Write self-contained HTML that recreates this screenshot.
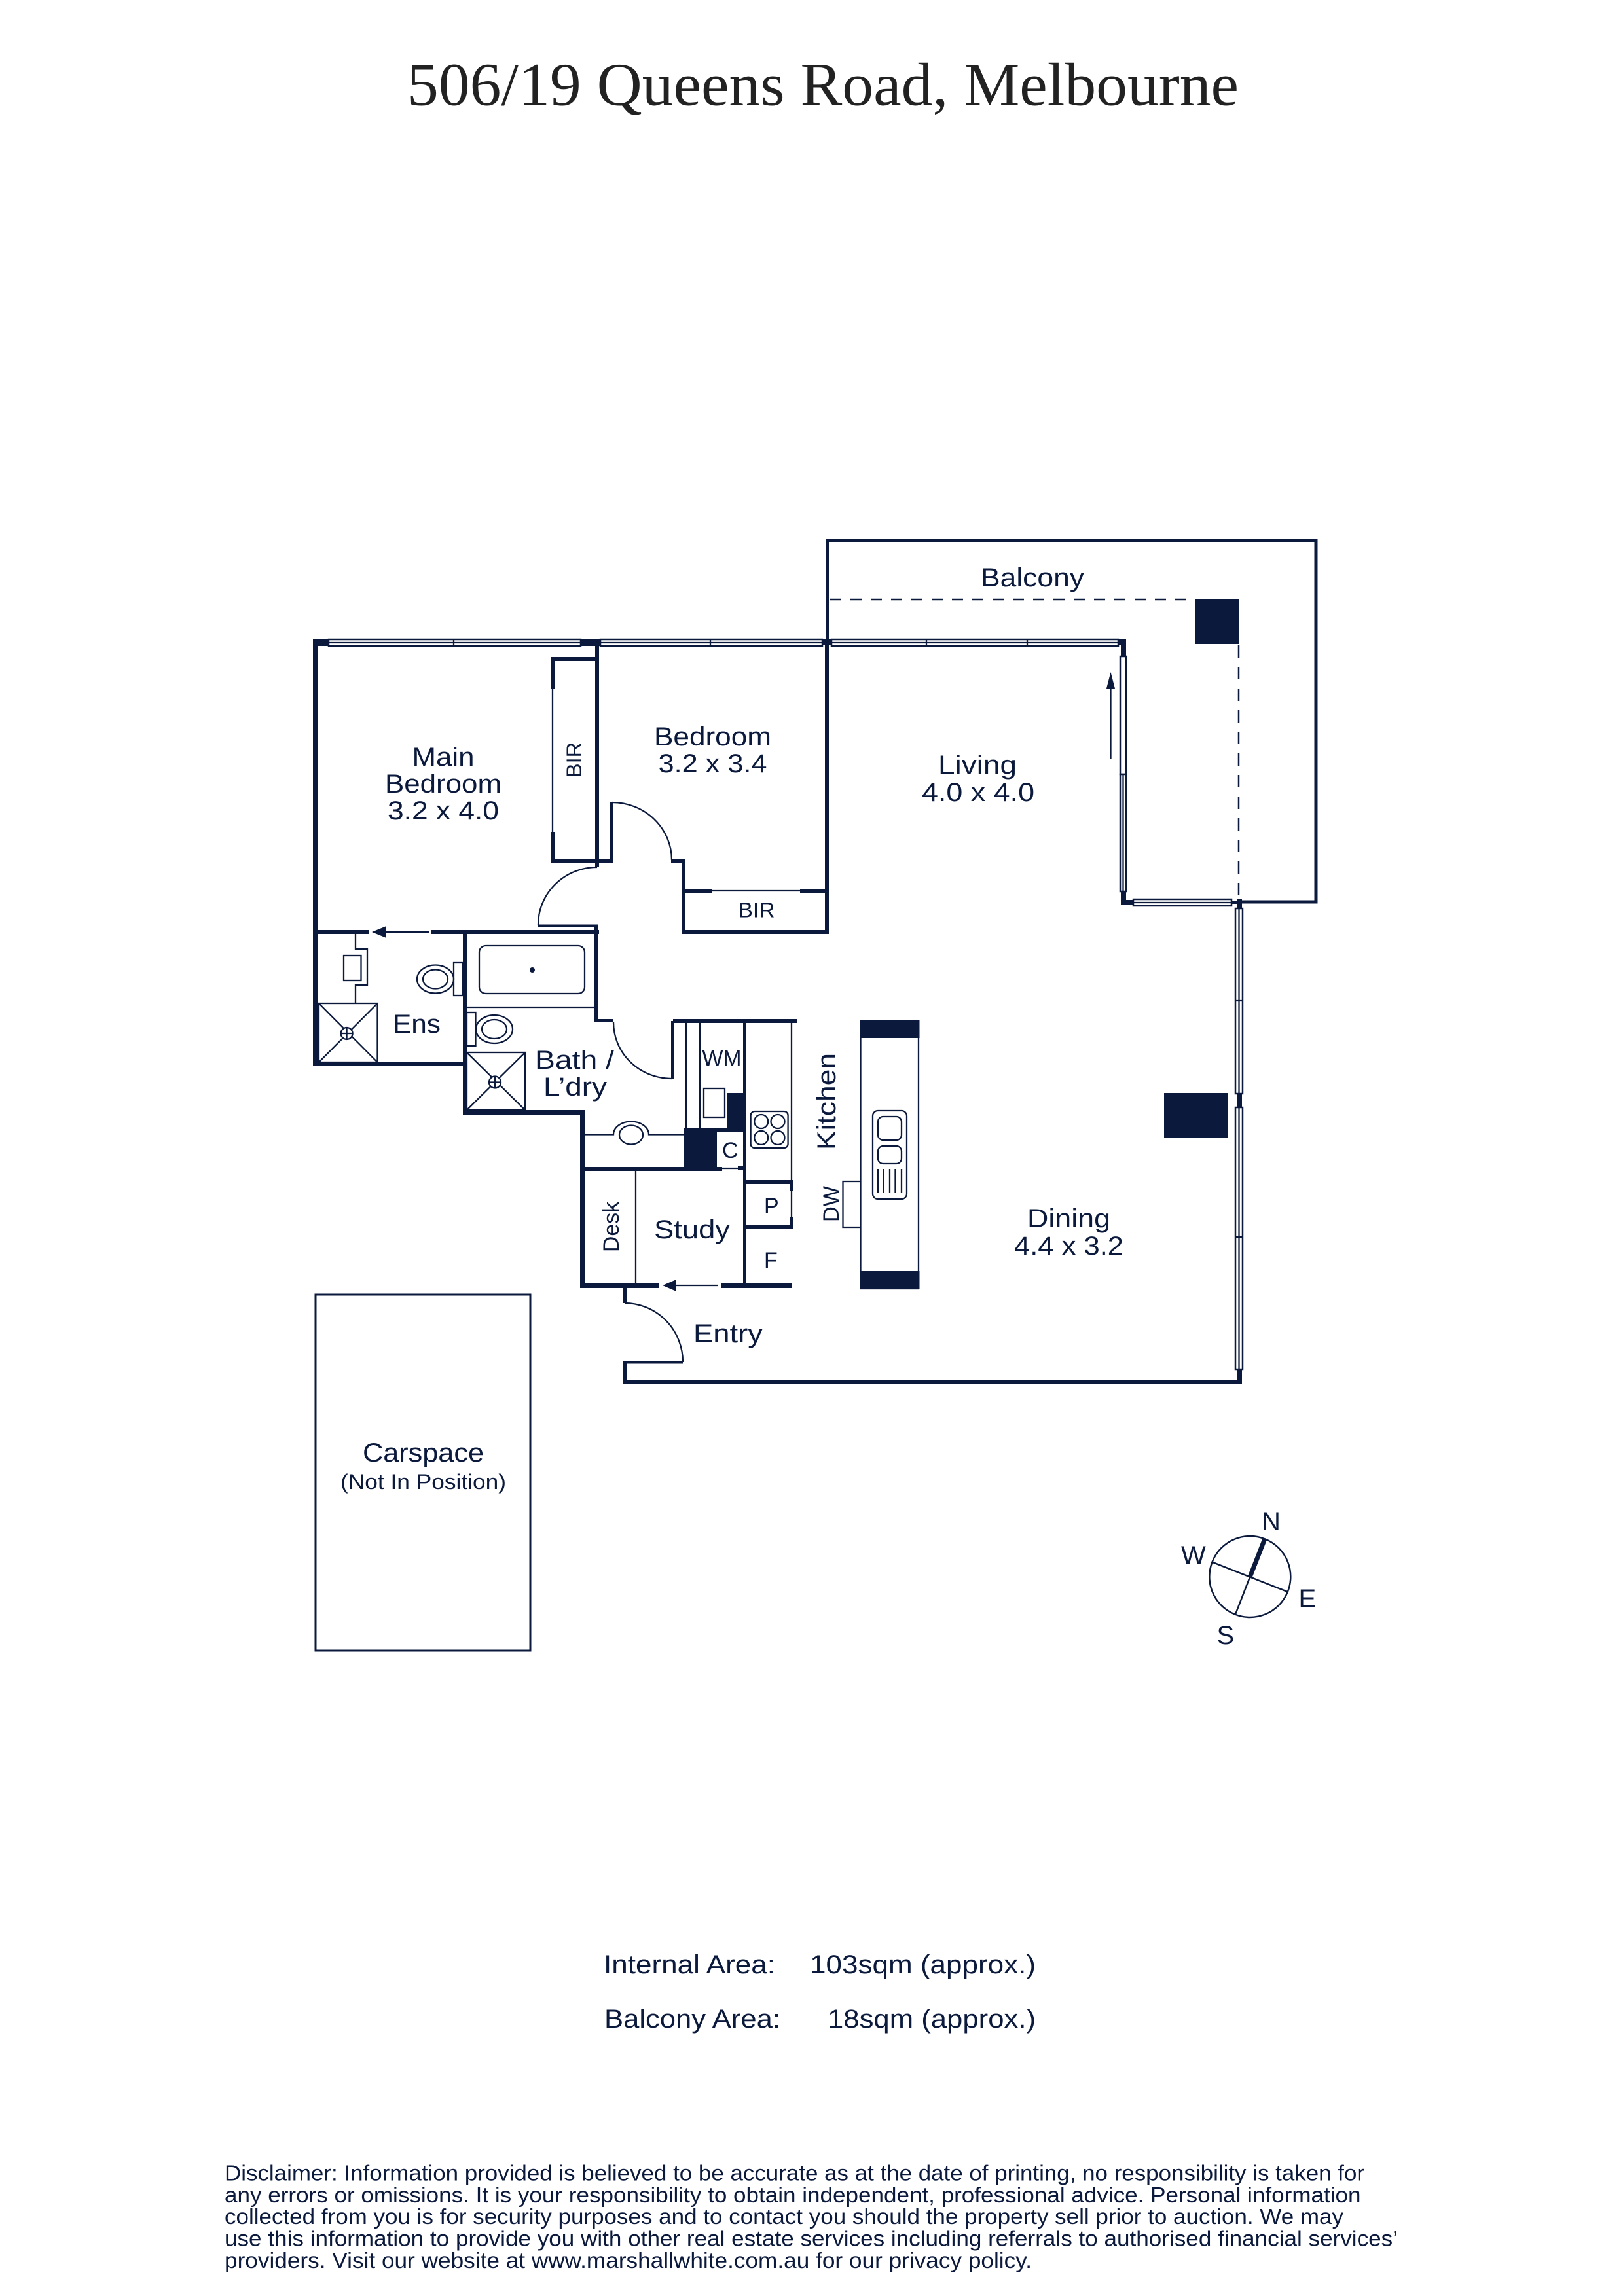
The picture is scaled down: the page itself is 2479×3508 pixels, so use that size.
<!DOCTYPE html>
<html><head><meta charset="utf-8"><style>
html,body{margin:0;padding:0;background:#fff;width:2479px;height:3508px;overflow:hidden}
svg{display:block}
text{font-family:"Liberation Sans",sans-serif;fill:#0b1a3c;font-size:40px}
.s{font-size:32px}
.d{font-size:34px}
.w{fill:#0b1a3c;stroke:none}
.t{fill:none;stroke:#0b1a3c;stroke-width:2.3}
.g{fill:#fff;stroke:#0b1a3c;stroke-width:2.5}
</style></head><body>
<svg xmlns="http://www.w3.org/2000/svg" width="2479" height="3508" viewBox="0 0 2479 3508">
<rect width="2479" height="3508" fill="#fff"/>
<text x="622" y="160.5" style="font-family:'Liberation Serif',serif;font-size:93px;fill:#222" textLength="1270" lengthAdjust="spacingAndGlyphs">506/19 Queens Road, Melbourne</text>

<!-- balcony -->
<path d="M1263.5 977V825.5H2010V1378H1893" fill="none" stroke="#0b1a3c" stroke-width="5"/>
<path d="M1268 916H1824" fill="none" stroke="#0b1a3c" stroke-width="2.5" stroke-dasharray="17 14"/>
<path d="M1892 986V1376" fill="none" stroke="#0b1a3c" stroke-width="2.5" stroke-dasharray="19 14"/>
<rect class="w" x="1825" y="915" width="68" height="69"/>
<rect class="w" x="1778" y="1670" width="98" height="68"/>

<!-- windows -->
<g>
<rect class="g" x="502" y="977" width="385" height="10"/><path class="t" d="M502 982H887M693 977V987"/>
<rect class="g" x="917" y="977" width="339" height="10"/><path class="t" d="M917 982H1256M1085 977V987"/>
<rect class="g" x="1270" y="977" width="438" height="10"/><path class="t" d="M1270 982H1708M1415 977V987M1569 977V987"/>
<rect class="g" x="1711" y="1003" width="9" height="180"/>
<rect class="g" x="1711" y="1183" width="9" height="179"/><path class="t" d="M1715.500 1183V1362"/>
<rect class="g" x="1731" y="1374" width="150" height="10"/><path class="t" d="M1731 1379H1881"/>
<rect class="g" x="1887" y="1388" width="11" height="283"/><path class="t" d="M1892.500 1388V1671M1887 1529H1898"/>
<rect class="g" x="1887" y="1692" width="11" height="400"/><path class="t" d="M1892.500 1692V2092M1887 1890H1898"/>
</g>

<!-- walls -->
<g class="w">
<rect x="478" y="977" width="8" height="652"/>
<rect x="478" y="977" width="24" height="10"/>
<rect x="887" y="977" width="29" height="10"/>
<rect x="909" y="977" width="6" height="348"/>
<rect x="1256" y="977" width="14" height="9"/>
<rect x="841" y="1004" width="70" height="6"/>
<rect x="841" y="1004" width="6" height="48"/>
<rect x="841" y="1271" width="6" height="47"/>
<rect x="841" y="1312" width="94" height="6"/>
<rect x="932" y="1225" width="5" height="93"/>
<rect x="1025" y="1312" width="22" height="6"/>
<rect x="1041" y="1312" width="6" height="115"/>
<rect x="1046" y="1358" width="42" height="7"/>
<rect x="1222" y="1358" width="40" height="7"/>
<rect x="1041" y="1421" width="225" height="6"/>
<rect x="1260" y="977" width="6" height="450"/>
<rect x="482" y="1421" width="81" height="6"/>
<rect x="659" y="1421" width="256" height="6"/>
<rect x="707" y="1421" width="6" height="282"/>
<rect x="478" y="1622" width="235" height="7"/>
<rect x="707" y="1696" width="186" height="7"/>
<rect x="886" y="1696" width="7" height="271"/>
<rect x="886" y="1961" width="121" height="7"/>
<rect x="1102" y="1961" width="108" height="7"/>
<rect x="951" y="1967" width="7" height="24"/>
<rect x="951" y="2080" width="7" height="34"/>
<rect x="951" y="2108" width="946" height="6.500"/>
<rect x="952" y="2080" width="91" height="3.500"/>
<rect x="822" y="1412.500" width="91" height="3.500"/>
<rect x="908" y="1413" width="6" height="149"/>
<rect x="908" y="1557" width="29" height="5"/>
<rect x="1025" y="1560" width="4" height="89"/>
<rect x="1028" y="1557" width="189" height="6"/>
<rect x="1135" y="1557" width="5" height="407"/>
<rect x="1140" y="1803" width="72" height="6"/>
<rect x="1206" y="1803" width="6" height="17"/>
<rect x="1140" y="1872" width="72" height="6"/>
<rect x="1206" y="1860" width="6" height="18"/>
<rect x="888" y="1783" width="215" height="6"/>
<rect x="1127" y="1781" width="8" height="7"/>
<rect x="1111" y="1670" width="24" height="59"/>
<rect x="1045" y="1723" width="50" height="65"/>
<rect x="1095" y="1723" width="40" height="6"/>
<!-- corners -->
<rect x="1708" y="977" width="12" height="8"/>
<rect x="1712" y="977" width="8" height="26"/>
<rect x="1712" y="1362" width="8" height="20"/>
<rect x="1712" y="1375" width="19" height="7"/>
<rect x="1881" y="1376" width="16" height="5"/>
<rect x="1889" y="1373" width="8" height="15"/>
<rect x="1889" y="1671" width="8" height="21"/>
<rect x="1889" y="2092" width="8" height="22"/>
<!-- arrows -->
<path d="M568 1424L590 1415V1433Z"/>
<path d="M1012 1964L1033 1955V1973Z"/>
<path d="M1696.500 1027L1690 1052H1703Z"/>
<!-- island -->
<rect x="1313" y="1559" width="91.500" height="27"/>
<rect x="1313" y="1942" width="91.500" height="28"/>
</g>

<!-- thin lines -->
<g class="t">
<path d="M590 1424H655M1033 1964H1097M1696.500 1050V1159"/>
<path d="M844 1052V1271M1088 1361H1222"/>
<path d="M935 1226A91 88 0 0 1 1026 1314"/>
<path d="M912 1325A90 88 0 0 0 822 1413"/>
<path d="M937 1562A89 86 0 0 0 1026 1648"/>
<path d="M954 1991A89 90 0 0 1 1043 2081"/>
<path d="M1048 1562V1723M1069 1562V1723"/>
<path d="M971 1789V1961"/>
<path d="M1103 1785H1127"/>
<path d="M1209 1562V1805M1209 1820V1860"/>
<!-- ensuite -->
<path d="M543 1427V1450H561V1505H543V1533"/>
<rect x="525" y="1460" width="26.500" height="38"/>
<rect x="693" y="1471" width="14" height="50"/>
<ellipse cx="665" cy="1496" rx="28" ry="21.500"/>
<ellipse cx="665" cy="1496" rx="19" ry="14.500"/>
<rect x="487" y="1533" width="89.500" height="90"/>
<path d="M487 1533L576.500 1623M576.500 1533L487 1623"/>
<circle cx="529.600" cy="1579" r="9" fill="#fff"/>
<path d="M520.600 1579H538.600M529.600 1570V1588"/>
<!-- bath -->
<path d="M713 1539H909"/>
<rect x="732" y="1445" width="161" height="73" rx="10"/>
<rect x="713" y="1547" width="13.500" height="51"/>
<ellipse cx="755" cy="1572.500" rx="28" ry="21.500"/>
<ellipse cx="755" cy="1572.500" rx="19" ry="14.500"/>
<rect x="713" y="1608" width="89" height="88"/>
<path d="M713 1608L802 1696M802 1608L713 1696"/>
<circle cx="756" cy="1653.500" r="9" fill="#fff"/>
<path d="M747 1653.500H765M756 1644.500V1662.500"/>
<path d="M893 1733.500H937A27 20 0 0 1 991 1733.500H1045"/>
<ellipse cx="964" cy="1734" rx="18" ry="14.500"/>
<rect x="1075" y="1663" width="32" height="44"/>
<!-- cooktop -->
<rect x="1146.600" y="1698" width="57" height="56" rx="6"/>
<circle cx="1162.700" cy="1713.500" r="10.500"/>
<circle cx="1188" cy="1713.500" r="10.500"/>
<circle cx="1162.700" cy="1738.400" r="10.500"/>
<circle cx="1188" cy="1738.400" r="10.500"/>
<!-- island -->
<rect x="1314.500" y="1560" width="88.500" height="409"/>
<rect x="1333" y="1697" width="52" height="135" rx="8"/>
<rect x="1341" y="1706" width="36" height="36" rx="8"/>
<rect x="1341" y="1751" width="36" height="27" rx="8"/>
<path d="M1341 1786V1823M1349.500 1786V1823M1359 1786V1823M1367.500 1786V1823M1377 1786V1823"/>
<path d="M1313 1805H1287.500V1875H1313"/>
<!-- carspace -->
<rect x="482" y="1978" width="328" height="544" stroke-width="3"/>
</g>
<circle cx="813" cy="1482" r="4" class="w"/>

<!-- compass -->
<circle cx="1909.300" cy="2409" r="62" fill="none" stroke="#0b1a3c" stroke-width="2.500"/>
<path d="M1851.700 2386.700L1967.300 2432.300M1909.300 2409L1886.700 2467.300" fill="none" stroke="#0b1a3c" stroke-width="2.500"/>
<path d="M1909.300 2409L1931.700 2351.700" fill="none" stroke="#0b1a3c" stroke-width="7"/>
<text x="1927" y="2338">N</text>
<text x="1804" y="2390">W</text>
<text x="1983.500" y="2456">E</text>
<text x="1858.500" y="2512">S</text>

<!-- labels -->
<g>
<text x="629.500" y="1170" textLength="95" lengthAdjust="spacingAndGlyphs">Main</text>
<text x="588" y="1211" textLength="178" lengthAdjust="spacingAndGlyphs">Bedroom</text>
<text x="592" y="1252" textLength="170" lengthAdjust="spacingAndGlyphs">3.2 x 4.0</text>
<text x="999" y="1139" textLength="179" lengthAdjust="spacingAndGlyphs">Bedroom</text>
<text x="1005.500" y="1180" textLength="166" lengthAdjust="spacingAndGlyphs">3.2 x 3.4</text>
<text x="1433" y="1182" textLength="120" lengthAdjust="spacingAndGlyphs">Living</text>
<text x="1408" y="1224" textLength="172" lengthAdjust="spacingAndGlyphs">4.0 x 4.0</text>
<text x="1498" y="896" textLength="158" lengthAdjust="spacingAndGlyphs">Balcony</text>
<text x="1569" y="1875" textLength="127" lengthAdjust="spacingAndGlyphs">Dining</text>
<text x="1549" y="1917" textLength="167" lengthAdjust="spacingAndGlyphs">4.4 x 3.2</text>
<text x="600" y="1578" textLength="73" lengthAdjust="spacingAndGlyphs">Ens</text>
<text x="817" y="1633" textLength="121" lengthAdjust="spacingAndGlyphs">Bath /</text>
<text x="830" y="1674" textLength="97" lengthAdjust="spacingAndGlyphs">L’dry</text>
<text x="999" y="1892" textLength="116" lengthAdjust="spacingAndGlyphs">Study</text>
<text x="1059" y="2051" textLength="106" lengthAdjust="spacingAndGlyphs">Entry</text>
<text class="s" x="1127.500" y="1401.500" textLength="56" lengthAdjust="spacingAndGlyphs">BIR</text>
<text class="d" x="1072.500" y="1628.500" textLength="60" lengthAdjust="spacingAndGlyphs">WM</text>
<text class="d" x="1103" y="1769">C</text>
<text class="d" x="1167" y="1854">P</text>
<text class="d" x="1167" y="1937">F</text>
<text class="s" transform="translate(888 1188) rotate(-90)" textLength="54" lengthAdjust="spacingAndGlyphs">BIR</text>
<text class="d" transform="translate(945 1913) rotate(-90)" textLength="77" lengthAdjust="spacingAndGlyphs">Desk</text>
<text transform="translate(1276 1757) rotate(-90)" textLength="148" lengthAdjust="spacingAndGlyphs">Kitchen</text>
<text class="d" transform="translate(1281 1867) rotate(-90)" textLength="55" lengthAdjust="spacingAndGlyphs">DW</text>
<text x="554" y="2233" textLength="185" lengthAdjust="spacingAndGlyphs">Carspace</text>
<text class="s" x="520" y="2275" textLength="253" lengthAdjust="spacingAndGlyphs">(Not In Position)</text>
<text x="922" y="3015" textLength="262" lengthAdjust="spacingAndGlyphs">Internal Area:</text>
<text x="1237" y="3015" textLength="345" lengthAdjust="spacingAndGlyphs">103sqm (approx.)</text>
<text x="923" y="3098" textLength="269" lengthAdjust="spacingAndGlyphs">Balcony Area:</text>
<text x="1264" y="3098" textLength="318" lengthAdjust="spacingAndGlyphs">18sqm (approx.)</text>
</g>

<!-- disclaimer -->
<g>
<text style="font-size:33px" x="343" y="3331.500" textLength="1741" lengthAdjust="spacingAndGlyphs">Disclaimer: Information provided is believed to be accurate as at the date of printing, no responsibility is taken for</text>
<text style="font-size:33px" x="343" y="3365" textLength="1735.500" lengthAdjust="spacingAndGlyphs">any errors or omissions. It is your responsibility to obtain independent, professional advice. Personal information</text>
<text style="font-size:33px" x="343" y="3398" textLength="1709" lengthAdjust="spacingAndGlyphs">collected from you is for security purposes and to contact you should the property sell prior to auction. We may</text>
<text style="font-size:33px" x="343" y="3431.500" textLength="1792" lengthAdjust="spacingAndGlyphs">use this information to provide you with other real estate services including referrals to authorised financial services’</text>
<text style="font-size:33px" x="343" y="3465" textLength="1233" lengthAdjust="spacingAndGlyphs">providers. Visit our website at www.marshallwhite.com.au for our privacy policy.</text>
</g>
</svg>
</body></html>
